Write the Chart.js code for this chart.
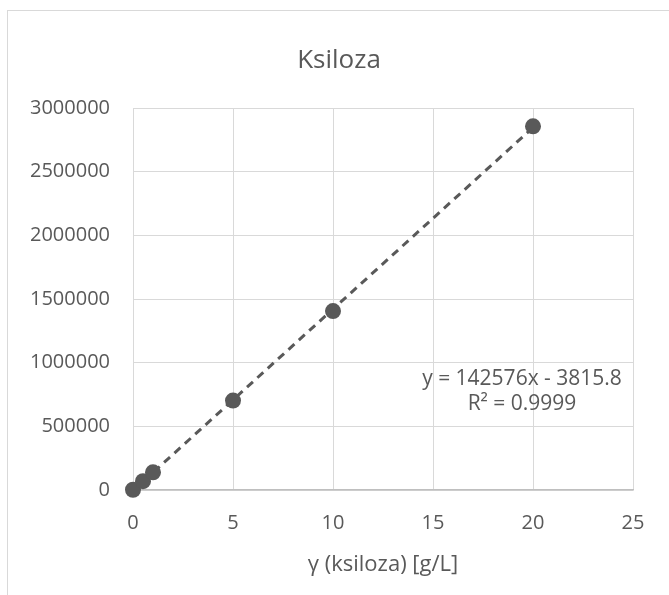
<!DOCTYPE html>
<html>
<head>
<meta charset="utf-8">
<script src="https://cdn.jsdelivr.net/npm/chart.js@4"></script>
<style>
  html, body { margin: 0; padding: 0; background: #fff; overflow: hidden; }
  #wrap { position: relative; width: 669px; height: 595px; }
  #frame { position: absolute; left: 7px; top: 10px; width: 700px; height: 700px;
           border: 1.5px solid #d9d9d9; box-sizing: border-box; }
  canvas { position: absolute; left: 0; top: 0; }
</style>
</head>
<body>
<div id="wrap">
  <div id="frame"></div>
  <canvas id="chart" width="669" height="595"></canvas>
</div>
<script>
document.addEventListener('DOMContentLoaded', function() {

    const chartTitle = 'Ksiloza';
    const xAxisTitle = 'γ (ksiloza) [g/L]';
    const concentrations = [0, 0.5, 1, 5, 10, 20];
    const peakAreas = [2000, 69000, 139000, 702000, 1405000, 2856000];
    const trendText = ['y = 142576x - 3815.8', 'R² = 0.9999'];
    const xTicks = [0, 5, 10, 15, 20, 25];
    const yTicks = [0, 500000, 1000000, 1500000, 2000000, 2500000, 3000000];

    const textColor = '#595959';
    const font = '"Open Sans", sans-serif';

    // least squares line through the points, drawn from min x to max x
    function linearFit(xs, ys) {
        const n = xs.length;
        const mx = xs.reduce((a, b) => a + b, 0) / n;
        const my = ys.reduce((a, b) => a + b, 0) / n;
        let sxy = 0, sxx = 0;
        xs.forEach((x, i) => { sxy += (x - mx) * (ys[i] - my); sxx += (x - mx) * (x - mx); });
        const m = sxy / sxx;
        return { m: m, b: my - m * mx };
    }
    const fit = linearFit(concentrations, peakAreas);
    const xMin = Math.min(...concentrations), xMax = Math.max(...concentrations);
    const trendPoints = [xMin, xMax].map(x => ({ x: x, y: fit.m * x + fit.b }));

    const textPlugin = {
        id: 'excelText',
        afterDraw(chart) {
            const ctx = chart.ctx;
            const area = chart.chartArea;
            const xs = chart.scales.x, ys = chart.scales.y;
            ctx.save();
            ctx.fillStyle = textColor;
            ctx.textAlign = 'center';
            ctx.textBaseline = 'middle';

            ctx.font = '26px ' + font;
            ctx.fillText(chartTitle, 339, 61);

            ctx.font = '22px ' + font;
            ctx.fillText(xAxisTitle, (area.left + area.right) / 2, 565);

            ctx.font = '21px ' + font;
            const cx = xs.getPixelForValue(19.45);
            const cy = ys.getPixelForValue(870000);
            ctx.fillText(trendText[0], cx, cy);
            ctx.fillText(trendText[1], cx, cy + 25);
            ctx.restore();
        }
    };

    new Chart(document.getElementById('chart'), {
        type: 'scatter',
        data: {
            datasets: [{
                data: concentrations.map((x, i) => ({ x: x, y: peakAreas[i] })),
                backgroundColor: textColor,
                borderColor: textColor,
                borderWidth: 0,
                pointRadius: 8,
                pointHoverRadius: 8,
                clip: false
            }, {
                type: 'line',
                data: trendPoints,
                borderColor: textColor,
                borderWidth: 3,
                borderDash: [8, 6],
                pointRadius: 0,
                fill: false
            }]
        },
        options: {
            responsive: false,
            animation: false,
            layout: { padding: { top: 108, right: 36, left: 0, bottom: 0 } },
            plugins: {
                legend: { display: false },
                tooltip: { enabled: false },
                title: { display: false }
            },
            scales: {
                x: {
                    type: 'linear',
                    min: 0, max: 25,
                    afterFit: s => { s.height = 105; },
                    afterBuildTicks: s => { s.ticks = xTicks.map(v => ({ value: v })); },
                    grid: { color: '#d9d9d9', drawTicks: false },
                    border: { color: '#bfbfbf', width: 1.5 },
                    ticks: { color: textColor, padding: 21, font: { family: font, size: 20 } }
                },
                y: {
                    type: 'linear',
                    min: 0, max: 3000000,
                    afterFit: s => { s.width = 133; },
                    afterBuildTicks: s => { s.ticks = yTicks.map(v => ({ value: v })); },
                    grid: { color: '#d9d9d9', drawTicks: false },
                    border: { display: false },
                    ticks: {
                        color: textColor, padding: 23,
                        font: { family: font, size: 20 },
                        callback: v => String(v)
                    }
                }
            }
        },
        plugins: [textPlugin]
    });
});
</script>
</body>
</html>
